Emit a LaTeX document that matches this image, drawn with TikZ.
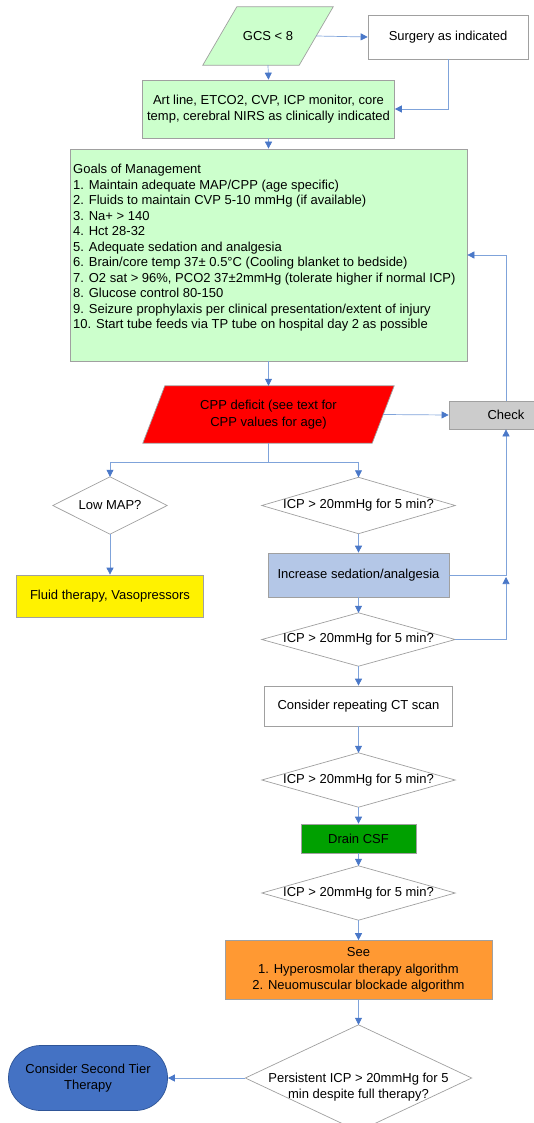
\documentclass[tikz,border=0pt]{standalone}
\usepackage{fontspec}
\setmainfont{Liberation Sans}
\usetikzlibrary{backgrounds,arrows.meta}
\definecolor{lgreen}{HTML}{CCFFCC}
\definecolor{bord}{HTML}{A0A0A0}
\definecolor{linec}{HTML}{7FA3DA}
\definecolor{arrc}{HTML}{4A78C8}
\definecolor{checkg}{HTML}{CCCCCC}
\definecolor{incblue}{HTML}{B4C7E7}
\definecolor{draing}{HTML}{00A000}
\definecolor{orangec}{HTML}{FF9933}
\definecolor{tierblue}{HTML}{4472C4}
\definecolor{tierbord}{HTML}{2F5597}
\begin{document}
\begin{tikzpicture}[x=1pt,y=-1pt,
  every node/.style={font=\fontsize{13}{16.5}\selectfont, inner sep=1pt, align=center},
  rbox/.style={draw=bord, line width=0.7pt},
  conn/.style={draw=linec, line width=0.7pt},
  arr/.style={conn, -{Triangle[length=7pt,width=7pt,color=arrc]}},
  shapebox/.style={draw=none, inner sep=0pt}]
\useasboundingbox (0,0) rectangle (534,1123);

% nodes
\node[shapebox, minimum width=130pt, minimum height=58pt] (gcs) at (268,36) {GCS < 8};
\node[rbox, fill=white, minimum width=160pt, minimum height=44pt] (surg) at (448,37) {Surgery as indicated};
\node[rbox, fill=lgreen, minimum width=252pt, minimum height=58pt] (art) at (268.5,109)
  {Art line, ETCO2, CVP, ICP monitor, core\\temp, cerebral NIRS as clinically indicated};
\node[rbox, fill=lgreen, minimum width=397pt, minimum height=212pt] (goals) at (268.5,255) {};
\node[anchor=north west, align=left, inner sep=0pt, font=\fontsize{13}{15.5}\selectfont] (goalstext) at (73,164)
  {Goals of Management\\
   1. Maintain adequate MAP/CPP (age specific)\\
   2. Fluids to maintain CVP 5-10 mmHg (if available)\\
   3. Na+ > 140\\
   4. Hct 28-32\\
   5. Adequate sedation and analgesia\\
   6. Brain/core temp 37± 0.5°C (Cooling blanket to bedside)\\
   7. O2 sat > 96\%, PCO2 37±2mmHg (tolerate higher if normal ICP)\\
   8. Glucose control 80-150\\
   9. Seizure prophylaxis per clinical presentation/extent of injury\\
   10. Start tube feeds via TP tube on hospital day 2 as possible};
\node[shapebox, minimum width=251pt, minimum height=57pt] (cpp) at (268.5,414.5)
  {CPP deficit (see text for\\CPP values for age)};
\node[rbox, fill=checkg, minimum width=114pt, minimum height=28pt] (check) at (506,415) {Check};
\node[shapebox, minimum width=114pt, minimum height=57pt] (lowmap) at (110,505.5) {Low MAP?};
\node[shapebox, minimum width=193pt, minimum height=56pt] (icp1) at (358.5,505.5) {ICP > 20mmHg for 5 min?};
\node[rbox, fill=yellow, minimum width=187pt, minimum height=42pt] (fluid) at (110,596) {Fluid therapy, Vasopressors};
\node[rbox, fill=incblue, minimum width=181pt, minimum height=44pt] (incr) at (358.5,575) {Increase sedation/analgesia};
\node[shapebox, minimum width=193pt, minimum height=53pt] (icp2) at (358.5,639.5) {ICP > 20mmHg for 5 min?};
\node[rbox, fill=white, minimum width=188pt, minimum height=40pt] (ct) at (358.5,706) {Consider repeating CT scan};
\node[shapebox, minimum width=193pt, minimum height=54pt] (icp3) at (358.5,780) {ICP > 20mmHg for 5 min?};
\node[rbox, fill=draing, minimum width=115pt, minimum height=29pt] (drain) at (358.5,838.5) {Drain CSF};
\node[shapebox, minimum width=193pt, minimum height=54pt] (icp4) at (358.5,893) {ICP > 20mmHg for 5 min?};
\node[rbox, fill=orangec, minimum width=267pt, minimum height=59pt] (orange) at (358.5,970)
  {See\\1. Hyperosmolar therapy algorithm\\2. Neuomuscular blockade algorithm};
\node[shapebox, minimum width=226pt, minimum height=106pt] (final) at (358.5,1078) {};
\node (finaltext) at (358.5,1087) {Persistent ICP > 20mmHg for 5\\min despite full therapy?};
\node[draw=tierbord, line width=0.7pt, fill=tierblue, rounded corners=32pt, minimum width=159pt, minimum height=65pt] (tier) at (88,1078)
  {Consider Second Tier\\Therapy};

% drawn shapes behind texts
\begin{scope}[on background layer]
\draw[rbox, fill=lgreen] ([xshift=34pt]gcs.north west) -- (gcs.north east) -- ([xshift=-34pt]gcs.south east) -- (gcs.south west) -- cycle;
\draw[rbox, fill=red] ([xshift=22pt]cpp.north west) -- (cpp.north east) -- ([xshift=-22pt]cpp.south east) -- (cpp.south west) -- cycle;
\foreach \d in {lowmap,icp1,icp2,icp3,icp4,final}
  \draw[rbox, fill=white] (\d.north) -- (\d.east) -- (\d.south) -- (\d.west) -- cycle;
\end{scope}

% connectors
\coordinate (split) at (268.5,462);
\coordinate (join) at (506,577);
\draw[arr] ([xshift=-17pt]gcs.east) -- (surg.west);
\draw[arr] (gcs.south) -- (art.north);
\draw[arr] (surg.south) |- (art.east);
\draw[arr] (art.south) -- (goals.north);
\draw[arr] (goals.south) -- (cpp.north);
\draw[arr] ([xshift=-11pt]cpp.east) -- (check.west);
\draw[arr] (check.north) |- (goals.east);
\draw[conn] (cpp.south) -- (split);
\draw[arr] (split) -| (lowmap.north);
\draw[arr] (split) -| (icp1.north);
\draw[arr] (lowmap.south) -- (fluid.north);
\draw[arr] (icp1.south) -- (incr.north);
\draw[arr] (incr.east) -| (check.south);
\draw[arr] (icp2.east) -| (join);
\draw[arr] (incr.south) -- (icp2.north);
\draw[arr] (icp2.south) -- (ct.north);
\draw[arr] (ct.south) -- (icp3.north);
\draw[arr] (icp3.south) -- (drain.north);
\draw[arr] (drain.south) -- (icp4.north);
\draw[arr] (icp4.south) -- (orange.north);
\draw[arr] (orange.south) -- (final.north);
\draw[arr] (final.west) -- (tier.east);
\end{tikzpicture}
\end{document}
